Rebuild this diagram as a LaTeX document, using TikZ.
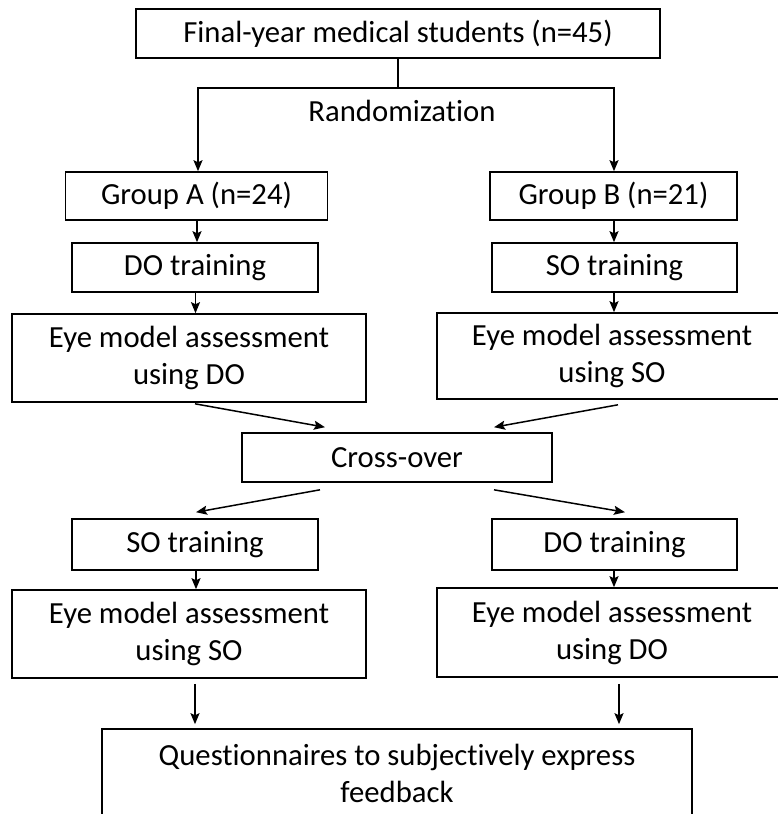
\documentclass[tikz,border=0pt]{standalone}
\usepackage{fontspec}
\setmainfont{Carlito}[RawFeature={-liga;-clig;-calt;-dlig}]
\usetikzlibrary{arrows.meta,calc}
\tikzset{
  box/.style={draw=black, line width=1.6pt, rectangle, inner sep=0pt, align=center,
    font=\fontsize{30.7}{37}\selectfont},
  arr/.style={draw=black, line width=1.5pt, -{Stealth[length=11pt,width=9pt,inset=2pt]}},
  plain/.style={draw=black, line width=1.5pt},
  lbl/.style={inner sep=0pt, font=\fontsize{30.7}{37}\selectfont}
}
\begin{document}
\begin{tikzpicture}[x=1pt,y=-1pt]
\useasboundingbox (0,0) rectangle (778,814);
\clip (0,0) rectangle (778,814);
\fill[white] (0,0) rectangle (778,814);
% nodes
\node[box, minimum width=524pt, minimum height=49pt] (top) at (398,33.5) {Final-year medical students (n=45)};
\node[lbl] (rand) at (402,111) {Randomization};
\node[box, minimum width=262pt, minimum height=48pt] (ga) at (196.5,196) {Group A (n=24)};
\node[box, minimum width=247pt, minimum height=48pt] (gb) at (613.5,196) {Group B (n=21)};
\node[box, minimum width=246pt, minimum height=49pt] (dot) at (195,267.5) {DO training};
\node[box, minimum width=245pt, minimum height=49pt] (sot) at (614.5,267.5) {SO training};
\node[box, minimum width=354pt, minimum height=88pt] (eyeA) at (189,358) {Eye model assessment\\using DO};
\node[box, minimum width=350pt, minimum height=86pt] (eyeB) at (612,356) {Eye model assessment\\using SO};
\node[box, minimum width=310pt, minimum height=49pt] (cross) at (397,457.5) {Cross-over};
\node[box, minimum width=246pt, minimum height=51pt] (sol) at (195,544.5) {SO training};
\node[box, minimum width=245pt, minimum height=51pt] (dol) at (614.5,544.5) {DO training};
\node[box, minimum width=354pt, minimum height=88pt] (eyeC) at (189,634) {Eye model assessment\\using SO};
\node[box, minimum width=350pt, minimum height=89pt] (eyeD) at (612,632.5) {Eye model assessment\\using DO};
\node[box, minimum width=590pt, minimum height=88pt] (q) at (397,773) {Questionnaires to subjectively express\\feedback};
% connectors
\coordinate (split) at (398,88);
\draw[plain] (top.south) -- (split);
\draw[arr] (split) -| ([xshift=1.5pt]ga.north);
\draw[arr] (split) -| ([xshift=0.5pt]gb.north);
\draw[arr] ([xshift=0.5pt]ga.south) -- ([xshift=0.5pt]ga.south |- dot.north);
\draw[arr] ([xshift=0.5pt]gb.south) -- ([xshift=0.5pt]gb.south |- sot.north);
\draw[arr] ([xshift=0.5pt]dot.south) -- ([xshift=0.5pt]dot.south |- eyeA.north);
\draw[arr] ([xshift=-0.5pt]sot.south) -- ([xshift=-0.5pt]sot.south |- eyeB.north);
\draw[arr] ([xshift=6pt,yshift=-1pt]eyeA.south) -- ([xshift=-72pt,yshift=5pt]cross.north);
\draw[arr] ([xshift=6pt,yshift=-5pt]eyeB.south) -- ([xshift=97pt,yshift=5pt]cross.north);
\draw[arr] ([xshift=-77pt,yshift=-7pt]cross.south) -- ([xshift=1pt,yshift=6pt]sol.north);
\draw[arr] ([xshift=97pt,yshift=-7pt]cross.south) -- ([xshift=10.5pt,yshift=6pt]dol.north);
\draw[arr] ([xshift=1pt]sol.south) -- ([xshift=1pt]sol.south |- eyeC.north);
\draw[arr] ([xshift=-0.5pt]dol.south) -- ([xshift=-0.5pt]dol.south |- eyeD.north);
\draw[arr, shorten <=5pt, shorten >=4pt] ([xshift=6pt]eyeC.south) -- ([xshift=6pt]eyeC.south |- q.north);
\draw[arr, shorten <=6pt, shorten >=4pt] ([xshift=7pt]eyeD.south) -- ([xshift=7pt]eyeD.south |- q.north);
\end{tikzpicture}
\end{document}
